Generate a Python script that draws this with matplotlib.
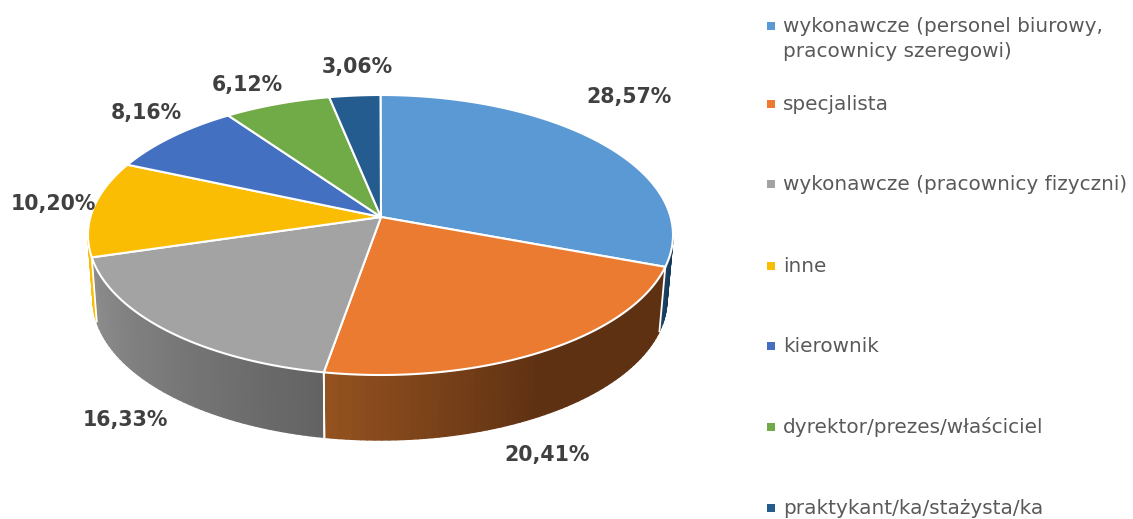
import numpy as np
import matplotlib
matplotlib.use("Agg")
import matplotlib.pyplot as plt
from matplotlib.collections import PolyCollection
from matplotlib.colors import to_rgb

# printed labels and legend, clockwise from 12 o'clock
categories = [
    "wykonawcze (personel biurowy,\npracownicy szeregowi)",
    "specjalista",
    "wykonawcze (pracownicy fizyczni)",
    "inne",
    "kierownik",
    "dyrektor/prezes/właściciel",
    "praktykant/ka/stażysta/ka",
]
labels = ["28,57%", "20,41%", "16,33%", "10,20%", "8,16%", "6,12%", "3,06%"]
# slice sizes as drawn in the picture (they do not follow the printed labels)
shares = [28.6, 24.4, 19.3, 10.9, 7.9, 5.9, 2.8]
colors = ["#5A99D4", "#EA7B31", "#A3A3A3", "#FBBC04", "#4370C0", "#70AB47", "#255C8F"]

label_xy = [(629, 97), (547, 455), (125, 420), (53, 204), (146, 113), (247, 85), (357, 67)]
legend_y = [39, 104, 184, 266, 346, 427, 508]

# wall shading: start colour, end colour, fraction of the wall where the ramp stops
wall_style = {
    0: ("#1B4468", "#173A59", 1.0),
    1: ("#94521F", "#5F3113", 0.5),
    2: ("#8E8E8E", "#636363", 1.0),
    3: ("#FBBC04", "#FBBC04", 1.0),
}

CX, CY, RX, RY = 380.5, 235, 292.5, 140
BX, BY, BRX, BRY = 380, 299, 287, 141
APEX = (381, 217)


def rim(t):
    return np.column_stack([CX + RX * np.cos(t), CY + RY * np.sin(-t)])


def rim_low(t):
    return np.column_stack([BX + BRX * np.cos(t), BY + BRY * np.sin(-t)])


def draw_wall(ax, t0, t1, style):
    c0, c1, stop = style
    c0, c1 = np.array(to_rgb(c0)), np.array(to_rgb(c1))
    n = max(4, int((t1 - t0) * 40))
    ts = np.linspace(t0, t1, n + 1)
    top, low = rim(ts), rim_low(ts)
    polys, cols = [], []
    for i in range(n):
        polys.append([top[i], top[i + 1], low[i + 1], low[i]])
        f = i / max(n - 1, 1)
        cols.append(c0 + (c1 - c0) * min(f / stop, 1))
    ax.add_collection(PolyCollection(polys, facecolors=cols, edgecolors=cols, linewidths=1.0, zorder=2))


def main():
    fig = plt.figure(figsize=(11.33, 5.19), dpi=100)
    ax = fig.add_axes([0, 0, 1, 1])
    ax.set_xlim(0, 1133)
    ax.set_ylim(519, 0)
    ax.axis("off")

    cum = np.cumsum([0] + shares) / sum(shares) * 2 * np.pi
    starts = np.pi / 2 - cum[:-1]
    ends = np.pi / 2 - cum[1:]

    # side walls, only the part of each slice facing the viewer
    for i in wall_style:
        t0 = max(starts[i], -np.pi) if i != 0 else 0.0
        t1 = max(ends[i], -np.pi)
        if t0 <= t1:
            continue
        draw_wall(ax, t1, t0, wall_style[i])
        for t in ([t0, t1] if i in (1, 2) else []):
            edge = np.vstack([rim(np.array([t])), rim_low(np.array([t]))])
            ax.plot(edge[:, 0], edge[:, 1], color="white", lw=1.3, zorder=3)

    # top face
    for i, c in enumerate(colors):
        ts = np.linspace(starts[i], ends[i], 120)
        pts = np.vstack([[APEX], rim(ts)])
        ax.fill(pts[:, 0], pts[:, 1], facecolor=c, edgecolor="white", lw=1.5, joinstyle="round", zorder=4)

    for (x, y), s in zip(label_xy, labels):
        ax.text(x, y, s, ha="center", va="center", fontsize=14.8, fontweight="bold",
                color="#404040", zorder=5)

    for y, c, name in zip(legend_y, colors, categories):
        first_y = y - 13 if "\n" in name else y
        ax.scatter([771], [first_y], marker="s", s=28, color=c, linewidths=0, zorder=5)
        ax.text(783, y, name, ha="left", va="center", fontsize=14.45, color="#595959",
                linespacing=1.36, zorder=5)

    fig.savefig("out.png", dpi=100)
    plt.close(fig)


if __name__ == "__main__":
    main()
